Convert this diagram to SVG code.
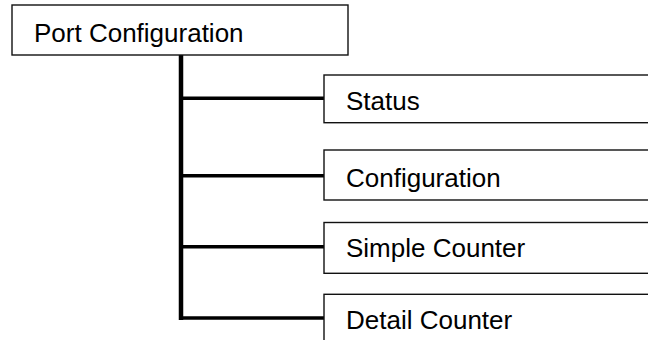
<svg xmlns="http://www.w3.org/2000/svg" width="648" height="340" viewBox="0 0 648 340">
<style>
.box{fill:#fff;stroke:#111;stroke-width:1.4}
.lbl{font-family:"Liberation Sans",Arial,sans-serif;font-size:26px;fill:#000}
.conn{stroke:#000;fill:none}
</style>
<rect width="648" height="340" fill="#fff"/>
<g id="connectors">
<line class="conn" x1="181" y1="55" x2="181" y2="320" stroke-width="4.5"/>
<line class="conn" x1="181" y1="98.3" x2="324" y2="98.3" stroke-width="3.5"/>
<line class="conn" x1="181" y1="175.7" x2="324" y2="175.7" stroke-width="3.5"/>
<line class="conn" x1="181" y1="246.7" x2="324" y2="246.7" stroke-width="3.5"/>
<line class="conn" x1="179" y1="318" x2="324" y2="318" stroke-width="3.5"/>
</g>
<g id="port-configuration">
<rect class="box" x="12" y="5" width="336" height="50"/>
<text class="lbl" x="34" y="42">Port Configuration</text>
</g>
<g id="status">
<rect class="box" x="324" y="75" width="340" height="47.7"/>
<text class="lbl" x="346" y="110">Status</text>
</g>
<g id="configuration">
<rect class="box" x="324" y="150" width="340" height="50"/>
<text class="lbl" x="346" y="187">Configuration</text>
</g>
<g id="simple-counter">
<rect class="box" x="324" y="222.5" width="340" height="50.8"/>
<text class="lbl" x="346" y="257">Simple Counter</text>
</g>
<g id="detail-counter">
<rect class="box" x="324" y="294.3" width="340" height="60"/>
<text class="lbl" x="346" y="329">Detail Counter</text>
</g>
</svg>
